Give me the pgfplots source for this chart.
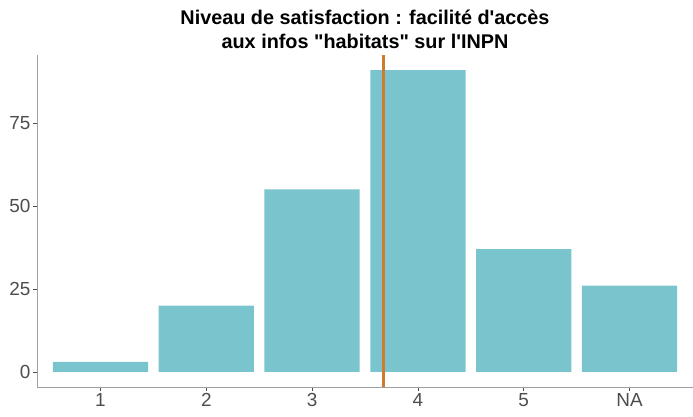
\documentclass[border=0pt]{standalone}
\usepackage{pgfplots}
\pgfplotsset{compat=1.18}
\usepackage{fontspec}
\setmainfont{Liberation Sans}[Ligatures=TeXOff]
\definecolor{barc}{HTML}{7AC5CD}
\definecolor{linec}{HTML}{D07A2E}
\definecolor{axc}{HTML}{A0A0A0}
\definecolor{tickc}{HTML}{4D4D4D}
\begin{document}
\begin{tikzpicture}[x=1bp,y=1bp]
\useasboundingbox (0,0) rectangle (693,416);
\begin{axis}[
  at={(37bp,29bp)}, anchor=south west,
  scale only axis, width=656bp, height=332bp,
  xmin=0.4, xmax=6.6, ymin=-4.55, ymax=95.55,
  axis lines*=left,
  xtick={1,2,3,4,5,6}, xticklabels={1,2,3,4,5,NA},
  ytick={0,25,50,75},
  tick align=outside, major tick length=4bp,
  tick style={tickc, line width=0.8bp},
  axis line style={axc, line width=0.8bp},
  ticklabel style={font=\fontsize{19}{19}\selectfont, text=tickc},
  xticklabel style={yshift=1bp},
  yticklabel style={xshift=1bp},
  /pgf/number format/assume math mode=true,
  title={Niveau de satisfaction : facilité d'accès\\aux infos "habitats" sur l'INPN},
  title style={font=\bfseries\fontsize{19.9}{24}\selectfont, align=center,
    at={(0.5,1)}, anchor=south, inner sep=0pt, yshift=0bp},
  clip=false,
]
\addplot[ybar, bar width=0.9, fill=barc, draw=none] coordinates {(1,3) (2,20) (3,55) (4,91) (5,37) (6,26)};
\addplot[linec, line width=2.6bp] coordinates {(3.675,-4.55) (3.675,95.55)};
\end{axis}
\end{tikzpicture}
\end{document}
